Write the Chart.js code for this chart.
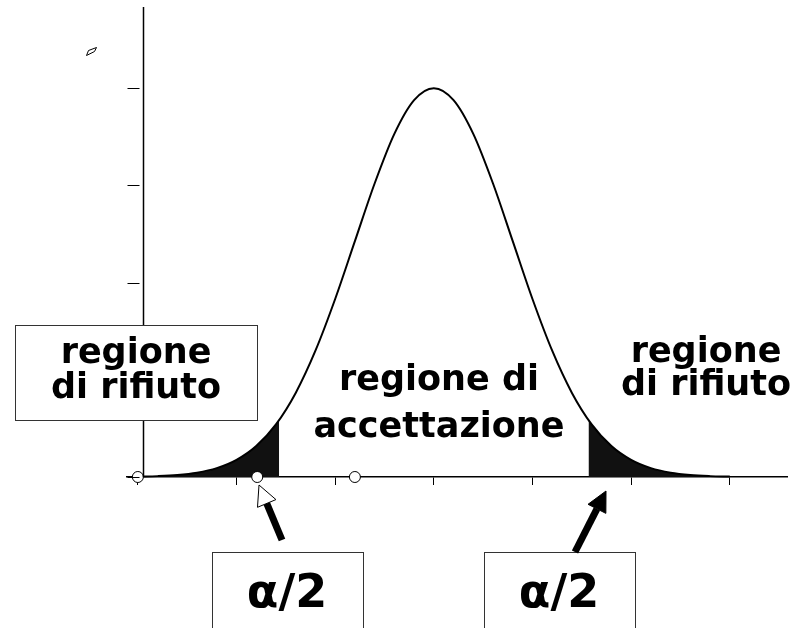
<!DOCTYPE html>
<html>
<head>
<meta charset="utf-8">
<script src="https://cdn.jsdelivr.net/npm/chart.js@4"></script>
<style>
  html, body { margin: 0; padding: 0; background: #fff; }
  canvas { display: block; }
</style>
</head>
<body>
<canvas id="myChartCurva" width="809" height="628"></canvas>
<script>
// curva (unità dell'asse x)
const xCurva = [-3.0, -2.8, -2.6, -2.4, -2.2, -2.0, -1.8, -1.6, -1.4, -1.2, -1.0, -0.8, -0.6, -0.4, -0.2,
  0.0, 0.2, 0.4, 0.6, 0.8, 1.0, 1.2, 1.4, 1.6, 1.8, 2.0, 2.2, 2.4, 2.6, 2.8, 3.0];
const yCurva = [0.0004, 0.0009, 0.0020, 0.0044, 0.0091, 0.0176, 0.0318, 0.0541, 0.0865, 0.1299, 0.1831, 0.2426, 0.3019, 0.3530, 0.3877,
  0.4000, 0.3877, 0.3530, 0.3019, 0.2426, 0.1831, 0.1299, 0.0865, 0.0541, 0.0318, 0.0176, 0.0091, 0.0044, 0.0020, 0.0009, 0.0004];

// code (regioni di rifiuto)
const xCodaSx = [-3.0, -2.8, -2.6, -2.4, -2.2, -2.0, -1.8, -1.6, -1.568];
const yCodaSx = [0.0004, 0.0009, 0.0020, 0.0044, 0.0091, 0.0176, 0.0318, 0.0541, 0.0586];
const xCodaDx = [1.568, 1.6, 1.8, 2.0, 2.2, 2.4, 2.6, 2.8, 3.0];
const yCodaDx = [0.0586, 0.0541, 0.0318, 0.0176, 0.0091, 0.0044, 0.0020, 0.0009, 0.0004];

// pallini sull'asse
const xPunti = [-3.0, -1.79, -0.80];
const yPunti = [0, 0, 0];

// tacche
const xTacche = [-3, -2, -1, 0, 1, 2, 3];
const yTacche = [0, 0.1, 0.2, 0.3, 0.4];
const xAsseY = -2.95;

const FONT = '"Comic Sans MS", "DejaVu Sans", sans-serif';

function toXY(xs, ys) {
    return xs.map((x, i) => ({ x: x, y: ys[i] }));
}

function box(ctx, x, y, w, h) {
    ctx.fillStyle = '#fff';
    ctx.fillRect(x, y, w, h);
    ctx.strokeStyle = '#333';
    ctx.lineWidth = 1;
    ctx.strokeRect(x + 0.5, y + 0.5, w, h);
}

function testo(ctx, righe, cx, baselines, size) {
    ctx.fillStyle = '#000';
    ctx.font = 'bold ' + size + 'px ' + FONT;
    ctx.textAlign = 'center';
    ctx.textBaseline = 'alphabetic';
    righe.forEach((r, i) => ctx.fillText(r, cx, baselines[i]));
}

function freccia(ctx, x0, y0, x1, y1, vuota) {
    const ang = Math.atan2(y1 - y0, x1 - x0);
    const lung = 20, larg = 10;
    const bx = x1 - lung * Math.cos(ang), by = y1 - lung * Math.sin(ang);
    ctx.strokeStyle = '#000';
    ctx.lineWidth = 7;
    ctx.lineCap = 'butt';
    ctx.beginPath();
    ctx.moveTo(x0, y0);
    ctx.lineTo(bx, by);
    ctx.stroke();
    ctx.beginPath();
    ctx.moveTo(x1, y1);
    ctx.lineTo(bx + larg * Math.sin(ang), by - larg * Math.cos(ang));
    ctx.lineTo(bx - larg * Math.sin(ang), by + larg * Math.cos(ang));
    ctx.closePath();
    ctx.fillStyle = vuota ? '#fff' : '#000';
    ctx.fill();
    ctx.lineWidth = 1;
    ctx.stroke();
}

// asse y, riquadri, scritte e frecce
const decorazioni = {
    id: 'decorazioni',
    afterDatasetsDraw(chart) {
        const ctx = chart.ctx;
        const xs = chart.scales.x, ys = chart.scales.y;
        const ax = Math.round(xs.getPixelForValue(xAsseY)) + 0.5;
        ctx.save();
        ctx.strokeStyle = '#000';
        ctx.lineWidth = 1.5;
        ctx.beginPath();
        ctx.moveTo(ax, chart.chartArea.top);
        ctx.lineTo(ax, ys.getPixelForValue(0));
        ctx.stroke();
        ctx.lineWidth = 1;
        yTacche.forEach(v => {
            const py = Math.round(ys.getPixelForValue(v)) + 0.5;
            ctx.beginPath();
            ctx.moveTo(ax - 16, py);
            ctx.lineTo(ax - 4, py);
            ctx.stroke();
        });

        // segnetto in alto a sinistra
        ctx.beginPath();
        ctx.moveTo(86.5, 55.5);
        ctx.lineTo(88.5, 50.5);
        ctx.lineTo(96.5, 47.5);
        ctx.lineTo(94.5, 51.5);
        ctx.closePath();
        ctx.stroke();

        box(ctx, 15, 325, 242, 95);
        testo(ctx, ['regione', 'di rifiuto'], 136, [363, 398], 35);
        testo(ctx, ['regione di', 'accettazione'], 439, [390, 437], 35);
        testo(ctx, ['regione', 'di rifiuto'], 706, [362, 395], 35);

        box(ctx, 212, 552, 151, 90);
        box(ctx, 484, 552, 151, 90);
        testo(ctx, ['\u03b1/2'], 287, [607], 46);
        testo(ctx, ['\u03b1/2'], 559, [607], 46);

        freccia(ctx, 282, 540, 259, 485, true);
        freccia(ctx, 575, 552, 606, 491, false);
        ctx.restore();
    }
};

const ctx = document.getElementById('myChartCurva').getContext('2d');

new Chart(ctx, {
    type: 'line',
    data: {
        datasets: [
            {
                label: 'punti',
                data: toXY(xPunti, yPunti),
                showLine: false,
                pointRadius: 5.5,
                pointBackgroundColor: '#fff',
                pointBorderColor: '#000',
                pointBorderWidth: 1,
                clip: false
            },
            {
                label: 'curva',
                data: toXY(xCurva, yCurva),
                borderColor: '#000',
                borderWidth: 2,
                pointRadius: 0,
                fill: false,
                cubicInterpolationMode: 'monotone',
                clip: false
            },
            {
                label: 'coda sinistra',
                data: toXY(xCodaSx, yCodaSx),
                borderWidth: 0,
                borderColor: 'rgba(0,0,0,0)',
                backgroundColor: '#111',
                pointRadius: 0,
                fill: 'origin',
                cubicInterpolationMode: 'monotone'
            },
            {
                label: 'coda destra',
                data: toXY(xCodaDx, yCodaDx),
                borderWidth: 0,
                borderColor: 'rgba(0,0,0,0)',
                backgroundColor: '#111',
                pointRadius: 0,
                fill: 'origin',
                cubicInterpolationMode: 'monotone'
            }
        ]
    },
    options: {
        responsive: false,
        animation: false,
        layout: { padding: { left: 127, right: 22, top: 7, bottom: 143 } },
        plugins: {
            legend: { display: false },
            tooltip: { enabled: false }
        },
        scales: {
            x: {
                type: 'linear',
                min: -3.11,
                max: 3.58,
                afterBuildTicks: s => { s.ticks = xTacche.map(v => ({ value: v })); },
                ticks: { display: false },
                grid: { display: true, drawOnChartArea: false, drawTicks: true, tickLength: 8, color: '#000', lineWidth: 1 },
                border: { display: true, color: '#000', width: 1.5 }
            },
            y: {
                display: false,
                min: 0,
                max: 0.4835
            }
        }
    },
    plugins: [decorazioni]
});
</script>
</body>
</html>
